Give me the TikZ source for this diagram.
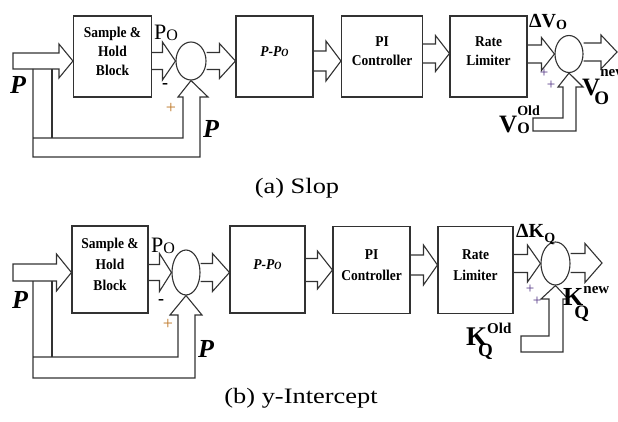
\documentclass[tikz,border=0pt]{standalone}
\usepackage{fontspec}
\setmainfont{Liberation Serif}
\usepackage{graphicx}
\usetikzlibrary{calc,positioning,shapes.geometric}
\definecolor{wire}{RGB}{50,50,50}
\definecolor{plusorange}{RGB}{190,120,40}
\definecolor{plusviolet}{RGB}{80,50,130}

\newcommand\blocktext[1]{\raisebox{4pt}[\height][\depth]{\scalebox{0.9}[1]{\begin{tabular}{@{}c@{}}#1\end{tabular}}}}
% hollow block arrow: [end], start, tip, shaft half width, head half width, head length
\newcommand\hollowto[6][]{%
  \draw[pipe] let \p1=#2, \p2=#3 in
    (\x1,\y2+#4pt) -- (\x2-#6pt,\y2+#4pt) -- (\x2-#6pt,\y2+#5pt) -- (\p2)
    -- (\x2-#6pt,\y2-#5pt) -- (\x2-#6pt,\y2-#4pt) -- (\x1,\y2-#4pt) #1;}

\begin{document}
\begin{tikzpicture}[x=1pt,y=-1pt,
     blk/.style={draw=wire,line width=1.1pt,inner sep=0pt,font=\fontsize{15}{19}\selectfont\bfseries},
     blka/.style={blk,minimum width=78pt,minimum height=81pt},
     blkb/.style={blk,minimum width=76pt,minimum height=87pt,font=\fontsize{15}{21}\selectfont\bfseries},
     sumnode/.style={draw=wire,line width=1.1pt,ellipse,inner sep=0pt},
     pipe/.style={draw=wire,line width=1.1pt,line join=miter},
     lbl/.style={inner sep=0pt,anchor=base west,font=\fontsize{22}{22}\selectfont},
     boldlbl/.style={inner sep=0pt,anchor=base west,font=\fontsize{20}{20}\selectfont\bfseries},
     biglbl/.style={inner sep=0pt,anchor=base west,font=\fontsize{25}{25}\selectfont\bfseries},
     bigp/.style={inner sep=0pt,anchor=base west,font=\fontsize{26}{26}\selectfont\bfseries\itshape},
     sgn/.style={inner sep=0pt,font=\fontsize{18}{18}\selectfont},
     smallsgn/.style={inner sep=0pt,font=\fontsize{15}{15}\selectfont,text=plusviolet},
     capt/.style={inner sep=0pt,font=\fontsize{22}{22}\selectfont}]
    \useasboundingbox (0,0) rectangle (618,422);

    % (a) slope
    \node[blka] (sha) at (112.5,56.5) {\blocktext{Sample \&\\Hold\\Block}};
    \node[blka,minimum width=77pt] (ppa) at (274.5,56.5) {\blocktext{\itshape P-P{\fontsize{11}{11}\selectfont O}}};
    \node[blka,minimum width=81pt] (pia) at (382,56.5) {\blocktext{PI\\Controller}};
    \node[blka,minimum width=77pt] (rla) at (488.5,56.5) {\blocktext{Rate\\Limiter}};
    \node[sumnode,minimum width=30pt,minimum height=38pt] (sa1) at (191,61) {};
    \node[sumnode,minimum width=28pt,minimum height=37pt] (sa2) at (569,54) {};
    \coordinate (ina) at (13,61);
    \coordinate (outa) at (617,52);
    \hollowto[-- cycle]{(ina)}{(sha.west |- sa1)}{8}{17}{14}
    \hollowto{(sha.east)}{(sa1.west)}{8.5}{19}{13}
    \hollowto{(sa1.east)}{(ppa.west |- sa1)}{8.5}{17.5}{16}
    \hollowto{(ppa.east)}{(pia.west |- sa1)}{10}{20}{15}
    \hollowto{(pia.east)}{($(rla.west)+(0,-3)$)}{9.5}{18}{14}
    \hollowto{(rla.east)}{(sa2.west)}{9}{16.5}{13}
    \hollowto{(sa2.east)}{(outa)}{9}{17}{16}
    \draw[pipe] (33,69) -- (33,157) -- (200,157) -- (200,97) -- (208,97) -- (sa1.south)
      -- (178,97) -- (183,97) -- (183,138) -- (33,138);
    \draw[pipe] (52,69) -- (52,138);
    \draw[pipe] (533,118) -- (563,118) -- (563,87) -- (558,87) -- (sa2.south)
      -- (583,87) -- (576,87) -- (576,131) -- (533,131) -- cycle;
    \node[lbl] (poa) at (154,40) {P\raisebox{-1pt}{\fontsize{16}{16}\selectfont O}};
    \node[sgn,font=\fontsize{18}{18}\selectfont\bfseries] (mia) at (165,86) {-};
    \node[sgn,text=plusorange] (pla) at (171,108) {+};
    \node[bigp] (pina) at (10,94) {P};
    \node[bigp] (pfba) at (203,138) {P};
    \node[boldlbl] (dva) at (529,28) {ΔV\raisebox{-2pt}{\fontsize{14}{14}\selectfont O}};
    \node[smallsgn] (pla1) at (544,73) {+};
    \node[smallsgn] (pla2) at (551,85) {+};
    \node[biglbl] (vna) at (582,96) {V\rlap{\raisebox{19pt}{\fontsize{15}{15}\selectfont new}}\kern-6pt\raisebox{-9pt}{\fontsize{19}{19}\selectfont O}};
    \node[biglbl] (voa) at (499,133) {V\rlap{\raisebox{17pt}{\fontsize{14}{14}\selectfont Old}}\raisebox{-1pt}{\fontsize{16}{16}\selectfont O}};
    \node[capt] (capa) at (297,188) {\scalebox{1.2}[1]{(a) Slop}};

    % (b) y-intercept
    \node[blkb] (shb) at (110,269.5) {\blocktext{Sample \&\\Hold\\Block}};
    \node[blkb,minimum width=75pt] (ppb) at (267.5,269.5) {\blocktext{\itshape P-P{\fontsize{11}{11}\selectfont O}}};
    \node[blkb,minimum width=77pt] (pib) at (371.5,270) {\blocktext{PI\\Controller}};
    \node[blkb,minimum width=75pt] (rlb) at (475.5,270) {\blocktext{Rate\\Limiter}};
    \node[sumnode,minimum width=28pt,minimum height=45pt] (sb1) at (186,272.5) {};
    \node[sumnode,minimum width=29pt,minimum height=43pt] (sb2) at (555.5,263.5) {};
    \coordinate (inb) at (13,274);
    \coordinate (outb) at (602,263);
    \hollowto[-- cycle]{(inb)}{(shb.west |- sb1)}{8.5}{18.5}{15}
    \hollowto{(shb.east)}{(sb1.west)}{8}{19}{12}
    \hollowto{(sb1.east)}{(ppb.west |- sb1)}{9}{19}{17}
    \hollowto{(ppb.east)}{(pib.west)}{11.5}{19}{15}
    \hollowto{(pib.east)}{($(rlb.west)+(0,-5)$)}{10}{20}{14}
    \hollowto{(rlb.east)}{(sb2.west)}{9}{18.5}{13}
    \hollowto{(sb2.east)}{(outb)}{9.5}{19.5}{17}
    \draw[pipe] (33,281) -- (33,378) -- (195,378) -- (195,315) -- (202,315) -- (sb1.south)
      -- (170,315) -- (178,315) -- (178,357) -- (33,357);
    \draw[pipe] (52,281) -- (52,357);
    \draw[pipe] (521,336) -- (549,336) -- (549,299) -- (541,299) -- (sb2.south)
      -- (568,299) -- (563,299) -- (563,352) -- (521,352) -- cycle;
    \node[lbl] (pob) at (151,252) {P\raisebox{-1pt}{\fontsize{16}{16}\selectfont O}};
    \node[sgn,font=\fontsize{18}{18}\selectfont\bfseries] (mib) at (161,302) {-};
    \node[sgn,text=plusorange] (plb) at (168,324) {+};
    \node[bigp] (pinb) at (12,308) {P};
    \node[bigp] (pfbb) at (198,357) {P};
    \node[boldlbl] (dkb) at (516,237) {ΔK\raisebox{-5pt}{\fontsize{14}{14}\selectfont Q}};
    \node[smallsgn] (plb1) at (530,289) {+};
    \node[smallsgn] (plb2) at (537,301) {+};
    \node[biglbl,font=\fontsize{26}{26}\selectfont\bfseries] (knb) at (563,305) {K\rlap{\raisebox{12pt}{\fontsize{15}{15}\selectfont new}}\kern-9pt\raisebox{-13pt}{\fontsize{19}{19}\selectfont Q}};
    \node[biglbl,font=\fontsize{27}{27}\selectfont\bfseries] (kob) at (466,345) {K\rlap{\raisebox{12pt}{\fontsize{15}{15}\selectfont Old}}\kern-9pt\raisebox{-11pt}{\fontsize{19}{19}\selectfont Q}};
    \node[capt] (capb) at (301,398) {\scalebox{1.2}[1]{(b) y-Intercept}};
  \end{tikzpicture}
\end{document}
